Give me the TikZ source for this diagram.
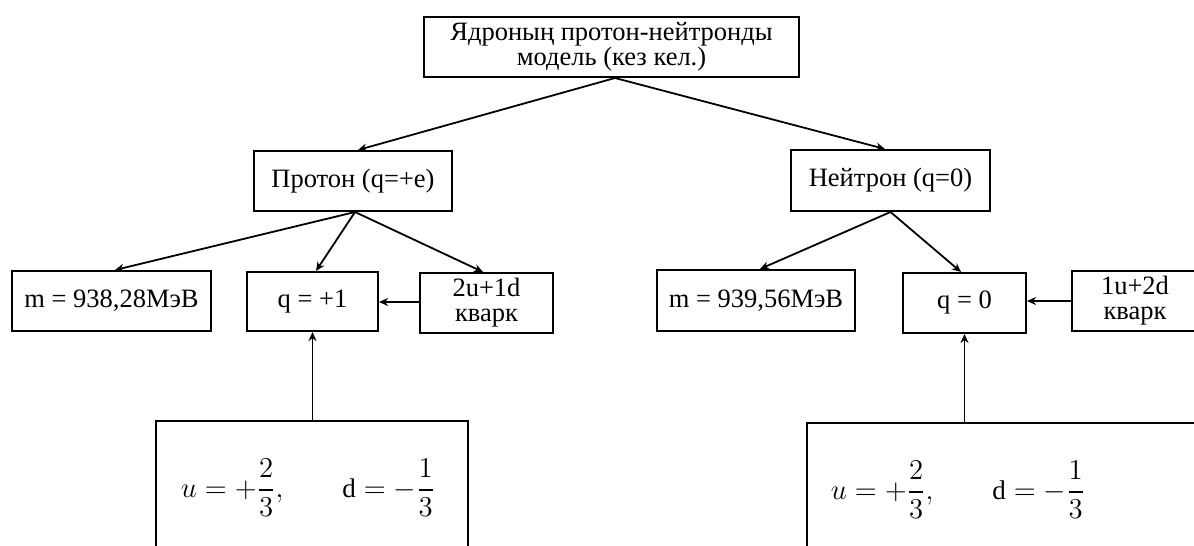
\documentclass[tikz,border=0pt]{standalone}
\usepackage{amsmath}
\usepackage{fontspec}
\setmainfont{Liberation Serif}
\usetikzlibrary{arrows.meta,calc}
\tikzset{
  sz/.style 2 args={minimum width={#1*0.5pt},minimum height={#2*0.5pt}},
  box/.style={draw, line width=1pt, rectangle, inner sep=0pt, align=center,
              font=\fontsize{13.25}{12.5}\selectfont},
  mathtxt/.style={inner sep=0pt, font=\fontsize{13.5}{15}\selectfont},
  arr/.style={line width=0.9pt, -{Stealth[length=4.5pt,width=4pt]}}
}
\begin{document}
\begin{tikzpicture}[x=0.5pt,y=-0.5pt]
\useasboundingbox (0,0) rectangle (1194,546);
\fill[white] (0,0) rectangle (1194,546);
\clip (0,0) rectangle (1194,546);

% top level
\node[box, sz={375}{60}] (top) at (611.5,47) {Ядроның протон-нейтронды\\модель (кез кел.)};

% proton and neutron
\node[box, sz={198}{60}] (pr) at (353,181) {Протон (q=+e)};
\node[box, sz={199}{61}] (ne) at (890.5,180.5) {Нейтрон (q=0)};

% proton properties
\node[box, sz={199}{60}] (m1) at (111.5,301) {m = 938,28МэВ};
\node[box, sz={131}{59}] (q1) at (312.5,301.5) {q = +1};
\node[box, sz={133}{60}] (k1) at (486.5,303) {2u+1d\\кварк};

% neutron properties
\node[box, sz={198}{61}] (m2) at (756,300.5) {m = 939,56МэВ};
\node[box, sz={123}{60}] (q2) at (964.5,303) {q = 0};
\node[box, sz={126}{60}] (k2) at (1135,301) {1u+2d\\кварк};

% quark charge boxes
\node[box, sz={312}{134}] (b1) at (312,488) {};
\node[mathtxt] (t1) at (308,488) {$u=+\dfrac{2}{3},\qquad \mathrm{d}=-\dfrac{1}{3}$};
\node[box, sz={393}{134}] (b2) at (1003.5,490) {};
\node[mathtxt] (t2) at (958,490) {$u=+\dfrac{2}{3},\qquad \mathrm{d}=-\dfrac{1}{3}$};

% connectors
\draw[arr] ([xshift=1.75pt]top.south) -- ([xshift=2.5pt]pr.north);
\draw[arr] ([xshift=1.75pt]top.south) -- ([xshift=-2.75pt]ne.north);

\draw[arr] ([xshift=1pt]pr.south) -- ([xshift=1.75pt]m1.north);
\draw[arr] ([xshift=1pt]pr.south) -- ([xshift=1.75pt]q1.north);
\draw[arr] ([xshift=1pt]pr.south) -- ([xshift=-1.75pt]k1.north);

\draw[arr] (ne.south) -- ([xshift=2pt]m2.north);
\draw[arr] (ne.south) -- ([xshift=-1.75pt]q2.north);

\draw[arr] ([yshift=0.5pt]k1.west) -- ([yshift=0.5pt]k1.west -| q1.east);
\draw[arr] (k2.west) -- (k2.west -| q2.east);

\draw[arr] (b1.north -| q1.south) -- (q1.south);
\draw[arr] (b2.north -| q2.south) -- (q2.south);
\end{tikzpicture}
\end{document}
